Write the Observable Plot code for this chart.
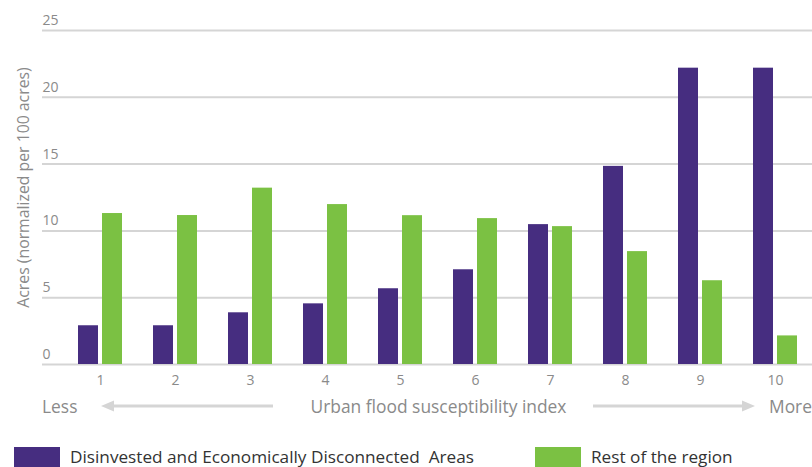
<!DOCTYPE html>
<html>
<head>
<meta charset="utf-8">
<script src="https://cdn.jsdelivr.net/npm/d3@7"></script>
<script src="https://cdn.jsdelivr.net/npm/@observablehq/plot@0.6"></script>
<style>
  html, body { margin: 0; padding: 0; background: #fff; }
  body { font-family: "Open Sans", sans-serif; }
  #wrap { position: relative; width: 812px; height: 467px; overflow: hidden; }
  #chart svg { display: block; }
  .row { position: absolute; left: 0; top: 392px; width: 812px; height: 28px; color: #8a8a8a; font-size: 17.4px; }
  .row span { position: absolute; top: 2px; line-height: 24px; white-space: nowrap; }
  .row svg { position: absolute; top: 7px; }
  .legend { position: absolute; left: 0; top: 447px; width: 812px; height: 30px; font-size: 17.2px; color: #333; }
  .legend .sw { position: absolute; top: 0; width: 46px; height: 22px; }
  .legend .lab { position: absolute; top: -1px; line-height: 22px; white-space: pre; }
</style>
</head>
<body>
<div id="wrap">
  <div id="chart"></div>
  <div class="row" id="axisrow"></div>
  <div class="legend" id="legend"></div>
</div>
<script>
// ---- data ----
const indexLabels = ["1", "2", "3", "4", "5", "6", "7", "8", "9", "10"];
const disinvested = [2.9, 2.9, 3.87, 4.54, 5.67, 7.09, 10.47, 14.83, 22.18, 22.18];
const restOfRegion = [11.3, 11.15, 13.2, 11.97, 11.14, 10.92, 10.32, 8.45, 6.27, 2.14];
const seriesNames = ["Disinvested and Economically Disconnected  Areas", "Rest of the region"];
const seriesColors = ["#462d80", "#7bc143"];
const yTicks = [0, 5, 10, 15, 20, 25];
const yTitle = "Acres (normalized per 100 acres)";
const xTitle = "Urban flood susceptibility index";
const lowLabel = "Less";
const highLabel = "More";

const dataA = indexLabels.map((k, i) => ({index: k, series: seriesNames[0], value: disinvested[i]}));
const dataB = indexLabels.map((k, i) => ({index: k, series: seriesNames[1], value: restOfRegion[i]}));

const chart = Plot.plot({
  width: 812,
  height: 392,
  marginLeft: 42,
  marginRight: 0,
  marginTop: 30,
  marginBottom: 28,
  style: {fontFamily: "Open Sans, sans-serif", fontSize: "14px", color: "#8a8a8a", background: "transparent"},
  x: {domain: indexLabels, range: [45.8, 829.2], padding: 0.415, label: null, tickSize: 0, tickPadding: 11},
  y: {domain: [0, 25], axis: null},
  color: {domain: seriesNames, range: seriesColors},
  marks: [
    Plot.ruleY(yTicks, {y: d => d, stroke: "#d5d5d5", strokeWidth: 2}),
    Plot.text(yTicks, {y: d => d, text: d => String(d), frameAnchor: "left", textAnchor: "start", lineAnchor: "middle", dy: -10, fill: "#8a8a8a", fontSize: 14}),
    Plot.barY(dataA, {x: "index", y: "value", fill: "series", insetRight: 24}),
    Plot.barY(dataB, {x: "index", y: "value", fill: "series", insetLeft: 24}),
    Plot.text([yTitle], {text: d => d, frameAnchor: "left", rotate: -90, textAnchor: "middle", lineAnchor: "middle", dx: -19, dy: -10, fill: "#8a8a8a", fontSize: 15.8})
  ]
});
document.getElementById("chart").appendChild(chart);

// ---- axis direction row ----
const row = document.getElementById("axisrow");
row.innerHTML = `
  <span style="left:42px">${lowLabel}</span>
  <svg width="175" height="14" style="left:101px"><line x1="12" y1="7" x2="172" y2="7" stroke="#d5d5d5" stroke-width="3"/><polygon points="0,7 13,1.5 13,12.5" fill="#d5d5d5"/></svg>
  <span style="left:438.5px;transform:translateX(-50%)">${xTitle}</span>
  <svg width="165" height="14" style="left:592px"><line x1="1" y1="7" x2="150" y2="7" stroke="#d5d5d5" stroke-width="3"/><polygon points="163,7 150,1.5 150,12.5" fill="#d5d5d5"/></svg>
  <span style="left:769px">${highLabel}</span>`;

// ---- legend ----
const legend = document.getElementById("legend");
const legendPos = [{sw: 14, lab: 70}, {sw: 535, lab: 591}];
seriesNames.forEach((name, i) => {
  const sw = document.createElement("div");
  sw.className = "sw";
  sw.style.left = legendPos[i].sw + "px";
  sw.style.background = seriesColors[i];
  legend.appendChild(sw);
  const lab = document.createElement("div");
  lab.className = "lab";
  lab.style.left = legendPos[i].lab + "px";
  lab.textContent = name;
  legend.appendChild(lab);
});
</script>
</body>
</html>
